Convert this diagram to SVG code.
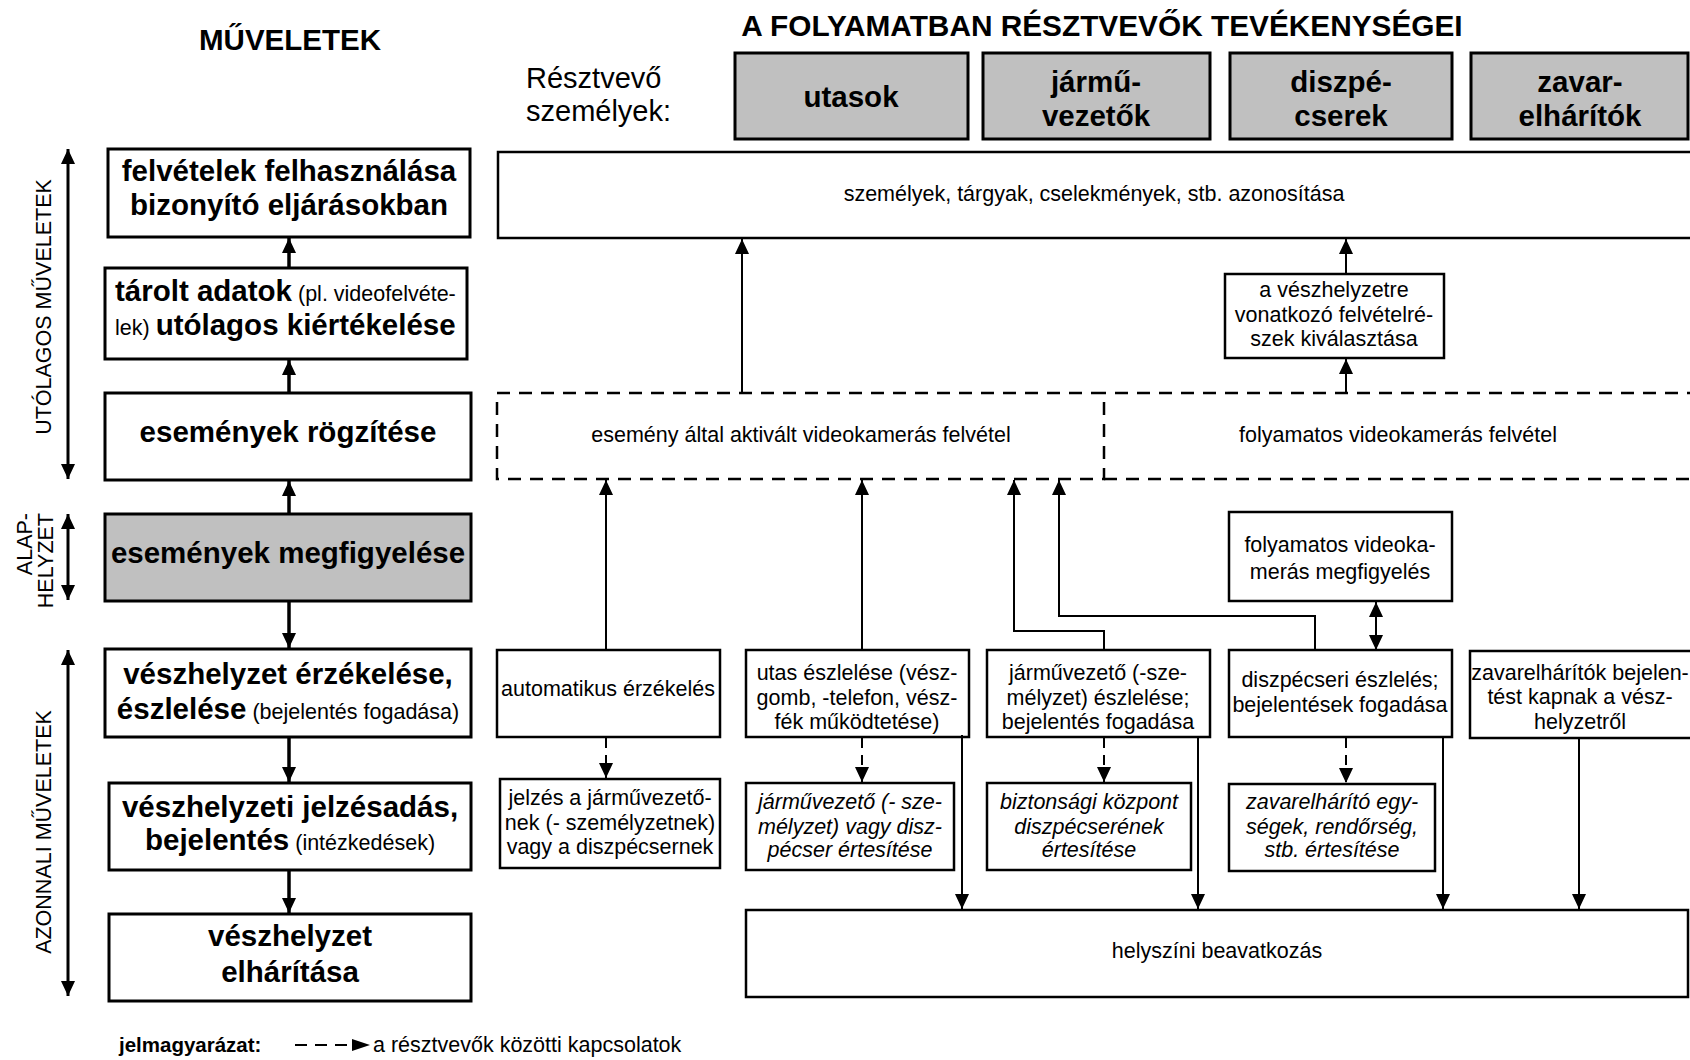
<svg xmlns="http://www.w3.org/2000/svg" width="1690" height="1060" viewBox="0 0 1690 1060">
<style>
text{font-family:"Liberation Sans",Arial,sans-serif;fill:#000}
.b29{font-size:29.5px;font-weight:bold}
.r21{font-size:21.5px}
.i21{font-size:21.5px;font-style:italic}
.r28{font-size:29px}
.sm{font-size:21.5px;font-weight:normal}
.mid{text-anchor:middle}
.lbox{fill:#fff;stroke:#000;stroke-width:3}
.box{fill:#fff;stroke:#000;stroke-width:2.5}
.gray{fill:#c0c0c0}
.dbox{fill:none;stroke:#000;stroke-width:2.5;stroke-dasharray:13 9}
.c{fill:none;stroke:#000;stroke-width:2}
.thick{stroke-width:3.5}
.dc{stroke-dasharray:10 7}
</style>
<defs>
<marker id="ah" markerUnits="userSpaceOnUse" markerWidth="15" markerHeight="14" refX="15" refY="7" orient="auto-start-reverse" viewBox="0 0 15 14">
<path d="M0,0 L15,7 L0,14 z" fill="#000"/>
</marker>
</defs>

<g id="titles">
<text class="b29 mid" x="290" y="50">MŰVELETEK</text>
<text class="b29 mid" x="1102" y="36" style="font-size:29.8px">A FOLYAMATBAN RÉSZTVEVŐK TEVÉKENYSÉGEI</text>
<text class="r28" x="526" y="88">Résztvevő</text>
<text class="r28" x="526" y="121">személyek:</text>
</g>

<g id="side-labels">
<text class="r21 mid" transform="translate(51,307) rotate(-90)">UTÓLAGOS MŰVELETEK</text>
<text class="r21" text-anchor="end" transform="translate(32,513) rotate(-90)">ALAP-</text>
<text class="r21" text-anchor="end" transform="translate(53,513) rotate(-90)">HELYZET</text>
<text class="r21 mid" transform="translate(51,832) rotate(-90)">AZONNALI MŰVELETEK</text>
</g>

<g id="hdr-utasok"><rect class="lbox gray" x="735" y="53" width="233" height="86"/><text class="b29 mid" x="851" y="107">utasok</text></g>
<g id="hdr-jarmuvezetok"><rect class="lbox gray" x="983" y="53" width="227" height="86"/><text class="b29 mid" x="1096" y="92">jármű-</text><text class="b29 mid" x="1096" y="126">vezetők</text></g>
<g id="hdr-diszpecserek"><rect class="lbox gray" x="1230" y="53" width="222" height="86"/><text class="b29 mid" x="1341" y="92">diszpé-</text><text class="b29 mid" x="1341" y="126">cserek</text></g>
<g id="hdr-zavarelharitok"><rect class="lbox gray" x="1471" y="53" width="217" height="86"/><text class="b29 mid" x="1580" y="92">zavar-</text><text class="b29 mid" x="1580" y="126">elhárítók</text></g>

<g id="op-felvetelek"><rect class="lbox" x="108" y="149" width="362" height="88"/><text class="b29 mid" x="289" y="181">felvételek felhasználása</text><text class="b29 mid" x="289" y="215">bizonyító eljárásokban</text></g>
<g id="op-tarolt"><rect class="lbox" x="105" y="268" width="362" height="91"/><text class="b29" x="115" y="301">tárolt adatok<tspan class="sm"> (pl. videofelvéte-</tspan></text><text class="b29" x="115" y="335"><tspan class="sm">lek) </tspan>utólagos kiértékelése</text></g>
<g id="op-rogzites"><rect class="lbox" x="105" y="393" width="366" height="87"/><text class="b29 mid" x="288" y="442">események rögzítése</text></g>
<g id="op-megfigyeles"><rect class="lbox gray" x="105" y="514" width="366" height="87"/><text class="b29 mid" x="288" y="563">események megfigyelése</text></g>
<g id="op-erzekeles"><rect class="lbox" x="105" y="649" width="366" height="88"/><text class="b29 mid" x="288" y="684">vészhelyzet érzékelése,</text><text class="b29 mid" x="288" y="719">észlelése<tspan class="sm"> (bejelentés fogadása)</tspan></text></g>
<g id="op-jelzesadas"><rect class="lbox" x="109" y="783" width="362" height="87"/><text class="b29 mid" x="290" y="817">vészhelyzeti jelzésadás,</text><text class="b29 mid" x="290" y="850">bejelentés<tspan class="sm"> (intézkedések)</tspan></text></g>
<g id="op-elharitas"><rect class="lbox" x="109" y="914" width="362" height="87"/><text class="b29 mid" x="290" y="946">vészhelyzet</text><text class="b29 mid" x="290" y="982">elhárítása</text></g>

<g id="azonositas"><rect class="box" x="498" y="152" width="1200" height="86"/><text class="r21 mid" x="1094" y="201">személyek, tárgyak, cselekmények, stb. azonosítása</text></g>
<g id="kivalasztas"><rect class="box" x="1225" y="274" width="219" height="84"/><text class="r21 mid" x="1334" y="297">a vészhelyzetre</text><text class="r21 mid" x="1334" y="322">vonatkozó felvételré-</text><text class="r21 mid" x="1334" y="346">szek kiválasztása</text></g>
<g id="aktivalt-felvetel"><path class="dbox" d="M1104,393 L497,393 L497,479 L1104,479 Z"/><text class="r21 mid" x="801" y="442">esemény által aktivált videokamerás felvétel</text></g>
<g id="folyamatos-felvetel"><path class="dbox" d="M1700,393 L1104,393 M1104,479 L1700,479"/><text class="r21 mid" x="1398" y="442">folyamatos videokamerás felvétel</text></g>
<g id="folyamatos-megfigyeles"><rect class="box" x="1229" y="512" width="223" height="89"/><text class="r21 mid" x="1340" y="552">folyamatos videoka-</text><text class="r21 mid" x="1340" y="579">merás megfigyelés</text></g>

<g id="automatikus"><rect class="box" x="497" y="650" width="223" height="87"/><text class="r21 mid" x="608" y="696">automatikus érzékelés</text></g>
<g id="utas-eszleles"><rect class="box" x="746" y="650" width="223" height="87"/><text class="r21 mid" x="857" y="680">utas észlelése (vész-</text><text class="r21 mid" x="857" y="705">gomb, -telefon, vész-</text><text class="r21 mid" x="857" y="729">fék működtetése)</text></g>
<g id="jarmuvezeto-eszleles"><rect class="box" x="987" y="650" width="223" height="87"/><text class="r21 mid" x="1098" y="680">járművezető (-sze-</text><text class="r21 mid" x="1098" y="705">mélyzet) észlelése;</text><text class="r21 mid" x="1098" y="729">bejelentés fogadása</text></g>
<g id="diszpecseri-eszleles"><rect class="box" x="1229" y="650" width="223" height="87"/><text class="r21 mid" x="1340" y="687">diszpécseri észlelés;</text><text class="r21 mid" x="1340" y="712">bejelentések fogadása</text></g>
<g id="zavarelharitok-bejelentes"><rect class="box" x="1470" y="651" width="230" height="87"/><text class="r21 mid" x="1580" y="680">zavarelhárítók bejelen-</text><text class="r21 mid" x="1580" y="704">tést kapnak a vész-</text><text class="r21 mid" x="1580" y="729">helyzetről</text></g>

<g id="jelzes"><rect class="box" x="500" y="779" width="220" height="89"/><text class="r21 mid" x="610" y="805">jelzés a járművezető-</text><text class="r21 mid" x="610" y="830">nek (- személyzetnek)</text><text class="r21 mid" x="610" y="854">vagy a diszpécsernek</text></g>
<g id="ertesites-jarmuvezeto"><rect class="box" x="746" y="783" width="208" height="87"/><text class="i21 mid" x="850" y="809">járművezető (- sze-</text><text class="i21 mid" x="850" y="834">mélyzet) vagy disz-</text><text class="i21 mid" x="850" y="857">pécser értesítése</text></g>
<g id="ertesites-kozpont"><rect class="box" x="987" y="783" width="204" height="87"/><text class="i21 mid" x="1089" y="809">biztonsági központ</text><text class="i21 mid" x="1089" y="834">diszpécserének</text><text class="i21 mid" x="1089" y="857">értesítése</text></g>
<g id="ertesites-zavarelharito"><rect class="box" x="1229" y="784" width="206" height="87"/><text class="i21 mid" x="1332" y="809">zavarelhárító egy-</text><text class="i21 mid" x="1332" y="834">ségek, rendőrség,</text><text class="i21 mid" x="1332" y="857">stb. értesítése</text></g>

<g id="helyszini"><rect class="box" x="746" y="910" width="942" height="87"/><text class="r21 mid" x="1217" y="958">helyszíni beavatkozás</text></g>

<g id="connectors">
<path class="c thick" d="M289,268 L289,238" marker-end="url(#ah)"/>
<path class="c thick" d="M289,393 L289,360" marker-end="url(#ah)"/>
<path class="c thick" d="M289,514 L289,481" marker-end="url(#ah)"/>
<path class="c thick" d="M289,601 L289,648" marker-end="url(#ah)"/>
<path class="c thick" d="M289,737 L289,782" marker-end="url(#ah)"/>
<path class="c thick" d="M289,870 L289,913" marker-end="url(#ah)"/>
<path class="c" style="stroke-width:3" d="M68,479 L68,149" marker-start="url(#ah)" marker-end="url(#ah)"/>
<path class="c" style="stroke-width:3" d="M68,514 L68,600" marker-start="url(#ah)" marker-end="url(#ah)"/>
<path class="c" style="stroke-width:3" d="M68,650 L68,996" marker-start="url(#ah)" marker-end="url(#ah)"/>

<path class="c" d="M742,393 L742,239" marker-end="url(#ah)"/>
<path class="c" d="M1346,274 L1346,239" marker-end="url(#ah)"/>
<path class="c" d="M1346,393 L1346,359" marker-end="url(#ah)"/>
<path class="c" d="M606,650 L606,480" marker-end="url(#ah)"/>
<path class="c" d="M862,650 L862,480" marker-end="url(#ah)"/>
<path class="c" d="M1104,650 L1104,631 L1014,631 L1014,480" marker-end="url(#ah)"/>
<path class="c" d="M1315,650 L1315,616 L1059,616 L1059,480" marker-end="url(#ah)"/>
<path class="c" d="M1376,602 L1376,650" marker-start="url(#ah)" marker-end="url(#ah)"/>
<path class="c" d="M962,735 L962,909" marker-end="url(#ah)"/>
<path class="c" d="M1198,737 L1198,909" marker-end="url(#ah)"/>
<path class="c" d="M1443,737 L1443,909" marker-end="url(#ah)"/>
<path class="c" d="M1579,738 L1579,909" marker-end="url(#ah)"/>
<path class="c dc" d="M606,738 L606,778" marker-end="url(#ah)"/>
<path class="c dc" d="M862,738 L862,782" marker-end="url(#ah)"/>
<path class="c dc" d="M1104,738 L1104,782" marker-end="url(#ah)"/>
<path class="c dc" d="M1346,738 L1346,783" marker-end="url(#ah)"/>
</g>

<g id="legend">
<text x="119" y="1052" style="font-size:20.5px;font-weight:bold">jelmagyarázat:</text>
<path class="c" style="stroke-dasharray:12 8" d="M295,1045 L352,1045"/>
<path d="M352,1039 L370,1045 L352,1051 Z" fill="#000"/>
<text class="r21" x="373" y="1052">a résztvevők közötti kapcsolatok</text>
</g>
</svg>
